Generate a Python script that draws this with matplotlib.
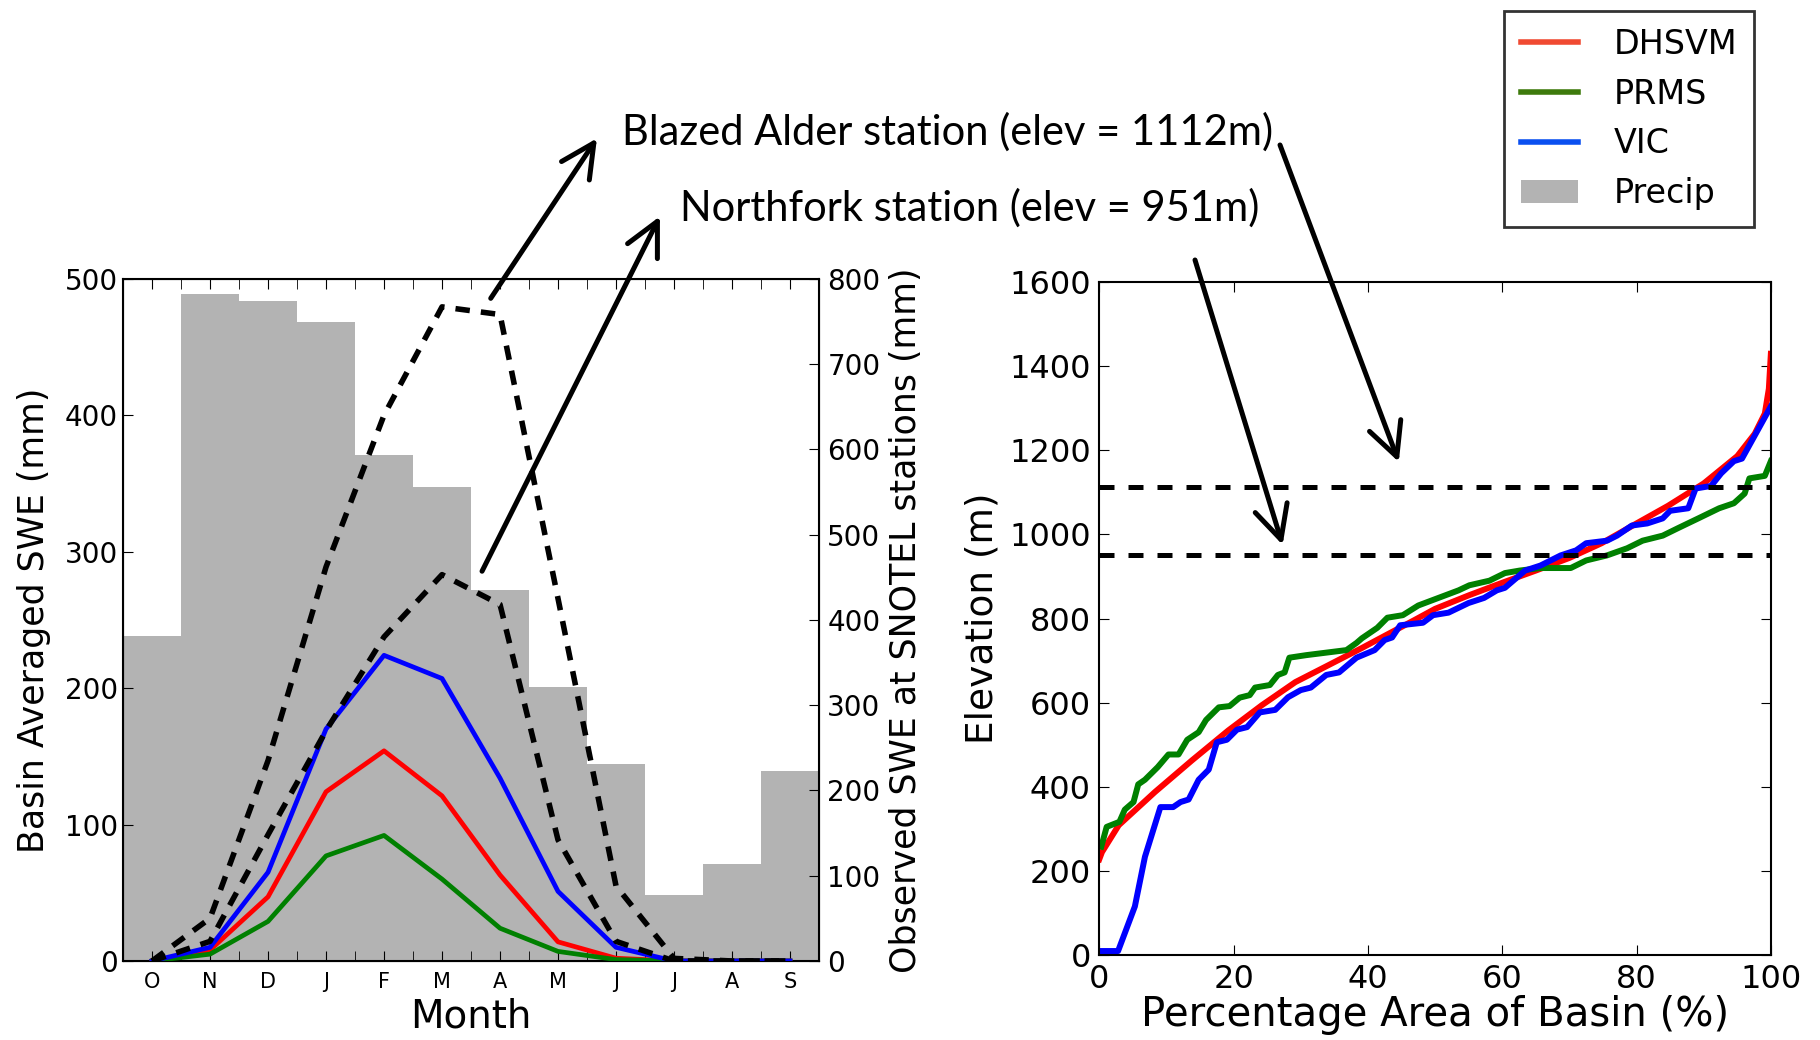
import numpy as np
import matplotlib
matplotlib.use('Agg')
import matplotlib.pyplot as plt
from matplotlib.lines import Line2D
from matplotlib.patches import Patch

# monthly values, water year Oct-Sep
months = ['O', 'N', 'D', 'J', 'F', 'M', 'A', 'M', 'J', 'J', 'A', 'S']
precip = [238, 489, 484, 468, 371, 347, 272, 201, 144, 48, 71, 139]
dhsvm_swe = [0, 8, 47, 124, 154, 121, 63, 14, 2, 0, 0, 0]
prms_swe = [0, 5, 29, 77, 92, 60, 24, 7, 1, 0, 0, 0]
vic_swe = [0, 10, 65, 170, 224, 207, 134, 51, 10, 0, 0, 0]
blazed_alder = [0, 50, 235, 462, 640, 767, 758, 425, 88, 3, 0, 0]
northfork = [0, 23, 148, 270, 380, 453, 418, 142, 23, 0, 0, 0]

# hypsometric curves (percent area, elevation m)
dhsvm_area = [0, 0.4, 2.9, 8.3, 13.8, 19.2, 24.2, 29.2, 34.1, 39.1, 43.1, 47, 50, 55, 60,
              65, 70, 74.8, 80, 84.7, 90, 95, 97.6, 99.1, 99.7, 100]
dhsvm_elev = [228, 245, 309, 388, 463, 534, 594, 649, 689, 730, 764, 797, 823, 855, 885,
              914, 944, 979, 1026, 1068, 1121, 1186, 1239, 1287, 1346, 1429]
prms_area = [0.3, 1.1, 3.0, 3.8, 5.1, 5.8, 6.8, 8.7, 10.3, 11.8, 13.1, 14.8, 15.9, 17.8,
             19.4, 20.9, 22.4, 23.2, 25.4, 26.6, 27.6, 28.3, 30.8, 36.8, 38.3, 39.1, 41.4,
             42.9, 45.2, 47.5, 50.5, 53.5, 55.1, 58.1, 60.4, 62.6, 65.7, 70.2, 72.5, 75.6,
             78.6, 80.9, 83.9, 86.2, 89.2, 92.3, 94.5, 96.1, 96.8, 99.1, 100]
prms_elev = [258, 305, 317, 346, 364, 406, 417, 447, 477, 477, 512, 530, 559, 589, 592,
             612, 618, 636, 642, 666, 672, 707, 713, 725, 742, 753, 778, 802, 808, 831,
             849, 867, 879, 890, 908, 914, 920, 920, 938, 950, 967, 985, 997, 1015, 1038,
             1062, 1074, 1097, 1133, 1139, 1174]
vic_area = [0.3, 2.8, 5.3, 6.8, 9.1, 11, 12.1, 13.3, 14.8, 16.3, 17.5, 19, 20.5, 22, 23.9,
            26.2, 28.1, 30, 31.5, 33.8, 35.7, 38.3, 41, 42.5, 43.6, 44.8, 48.2, 49.7, 52,
            55, 57.3, 59.2, 60.4, 63.4, 65.7, 68.7, 71, 72.5, 75.6, 77.1, 79.3, 81.6, 83.9,
            85, 87.7, 88.8, 91.1, 92.6, 94.5, 95.7, 100]
vic_elev = [10, 10, 116, 234, 352, 352, 364, 370, 417, 441, 506, 512, 536, 542, 577, 583,
            613, 630, 636, 666, 672, 707, 725, 749, 755, 784, 790, 808, 814, 837, 849, 867,
            873, 914, 926, 950, 962, 979, 985, 997, 1021, 1026, 1038, 1056, 1062, 1109,
            1115, 1145, 1174, 1180, 1304]
station_elev = [1112, 951]

fig = plt.figure(figsize=(18.2, 10.4), dpi=100)

# ---- left panel: seasonal SWE ----
ax = fig.add_axes([0.0676, 0.076, 0.3824, 0.656])
x = np.arange(len(months)) + 0.5
ax.bar(x, precip, width=1.0, color='#b3b3b3', edgecolor='none', zorder=1)
ax.plot(x, dhsvm_swe, color='red', lw=3.4, zorder=3)
ax.plot(x, prms_swe, color='green', lw=3.4, zorder=3)
ax.plot(x, vic_swe, color='blue', lw=3.4, zorder=3)
ax.set_xlim(0, 12)
ax.set_ylim(0, 500)
ax.set_xticks(x)
ax.set_xticklabels(months, fontsize=15)
ax.set_xticks(np.arange(0, 13), minor=True)
ax.set_yticks(range(0, 501, 100))
ax.tick_params(axis='y', labelsize=20, direction='in', length=7, left=True, right=False)
ax.tick_params(axis='x', which='both', direction='in', length=7, top=True, pad=8)
ax.set_xlabel('Month', fontsize=28, labelpad=4)
ax.set_ylabel('Basin Averaged SWE (mm)', fontsize=25, labelpad=10)
for s in ax.spines.values():
    s.set_linewidth(1.5)

ax2 = ax.twinx()
ax2.plot(x, blazed_alder, color='black', lw=4, linestyle=(0, (2.6, 2.0)))
ax2.plot(x, northfork, color='black', lw=4, linestyle=(0, (2.6, 2.0)))
ax2.set_ylim(0, 800)
ax2.set_yticks(range(0, 801, 100))
ax2.tick_params(axis='y', labelsize=20, direction='in', length=7, pad=6)
ax2.set_ylabel('Observed SWE at SNOTEL stations (mm)', fontsize=25, labelpad=6)

# ---- right panel: hypsometry ----
ax3 = fig.add_axes([0.604, 0.0815, 0.369, 0.6475])
ax3.plot(dhsvm_area, dhsvm_elev, color='red', lw=4.3)
ax3.plot(prms_area, prms_elev, color='green', lw=4.3)
ax3.plot(vic_area, vic_elev, color='blue', lw=4.3)
for e in station_elev:
    ax3.axhline(e, color='black', lw=3.6, linestyle=(0, (3.0, 2.8)))
ax3.set_xlim(0, 100)
ax3.set_ylim(0, 1600)
ax3.set_xticks(range(0, 101, 20))
ax3.set_yticks(range(0, 1601, 200))
ax3.tick_params(labelsize=23, direction='in', length=7, top=True, right=True, pad=6)
ax3.set_xlabel('Percentage Area of Basin (%)', fontsize=29, labelpad=0)
ax3.set_ylabel('Elevation (m)', fontsize=27, labelpad=6)
for s in ax3.spines.values():
    s.set_linewidth(1.5)

# ---- annotations ----
fig.text(0.342, 0.873, 'Blazed Alder station (elev = 1112m)', fontsize=30,
         family='Lato', va='center', ha='left')
fig.text(0.3735, 0.8, 'Northfork station (elev = 951m)', fontsize=30,
         family='Lato', va='center', ha='left')

aprops = dict(arrowstyle='->,head_length=0.8,head_width=0.4', lw=3.6, color='black',
              shrinkA=0, shrinkB=0, mutation_scale=30)
ax2.annotate('', xy=(0.328, 0.867), xycoords='figure fraction',
             xytext=(6.34, 777), textcoords='data', arrowprops=aprops,
             annotation_clip=False)
ax2.annotate('', xy=(0.3626, 0.792), xycoords='figure fraction',
             xytext=(6.19, 457), textcoords='data', arrowprops=aprops,
             annotation_clip=False)
ax3.annotate('', xy=(44.6, 1172), xycoords='data',
             xytext=(0.7033, 0.8606), textcoords='figure fraction', arrowprops=aprops,
             annotation_clip=False)
ax3.annotate('', xy=(27.3, 975), xycoords='data',
             xytext=(0.6566, 0.75), textcoords='figure fraction', arrowprops=aprops,
             annotation_clip=False)

# ---- legend ----
handles = [Line2D([], [], color='#f04a32', lw=4),
           Line2D([], [], color='#3d7a0c', lw=4),
           Line2D([], [], color='#0a4ff0', lw=4),
           Patch(facecolor='#b3b3b3', edgecolor='none')]
leg = fig.legend(handles, ['DHSVM', 'PRMS', 'VIC', 'Precip'], loc='upper right',
                 bbox_to_anchor=(0.964, 0.989), fontsize=24, fancybox=False,
                 handlelength=1.7, handletextpad=1.1, labelspacing=0.5,
                 borderpad=0.5, borderaxespad=0)
leg.get_frame().set_edgecolor('black')
leg.get_frame().set_linewidth(2)

fig.savefig('out.png', dpi=100)
